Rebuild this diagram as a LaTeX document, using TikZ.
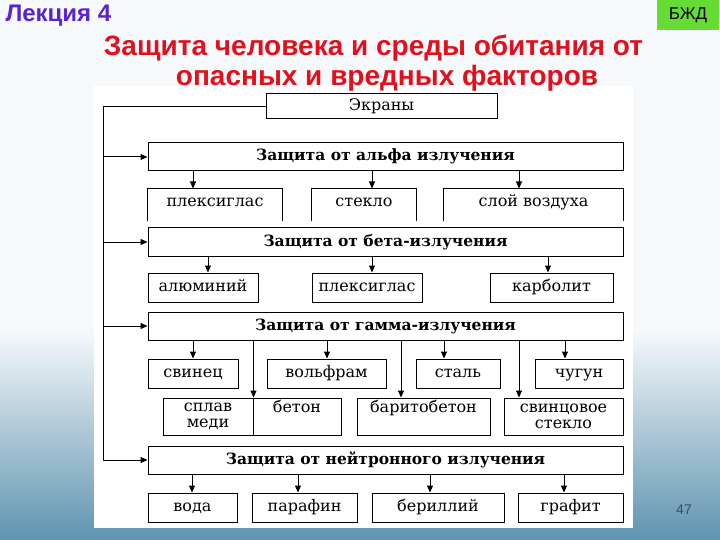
\documentclass[tikz,border=0pt]{standalone}
\usepackage{fontspec}
\setmainfont{Liberation Sans}
\newfontfamily\schemefont{DejaVu Serif}
\usetikzlibrary{arrows.meta}

\definecolor{lecblue}{HTML}{5A22D6}
\definecolor{titlered}{HTML}{E0101C}
\definecolor{tabgreen}{HTML}{66DB33}
\definecolor{bgtop}{HTML}{F6F9FC}
\definecolor{bgbottom}{HTML}{5F94B0}
\definecolor{pagegray}{HTML}{3E4E5E}

\begin{document}
\begin{tikzpicture}[
    x=1pt, y=-1pt,
    line width=1pt,
    item/.style={
        draw,
        inner sep=0pt,
        minimum height=29,
        text height=11pt,
        text depth=3pt,
        align=center,
        font=\schemefont\fontsize{16}{16}\selectfont
    },
    head/.style={item, minimum width=475, minimum height=28,
        font=\schemefont\bfseries\fontsize{15.5}{16}\selectfont},
    openitem/.style={item, draw=none, minimum height=32, text depth=8pt},
    tallitem/.style={item, minimum height=37},
    toptext/.style={text height=14pt, text depth=23pt},
    arrow/.style={-{Triangle[length=7pt, width=6pt]}},
    title/.style={font=\bfseries\fontsize{28}{30}\selectfont, text=titlered, inner sep=0pt}
]
\useasboundingbox (0,0) rectangle (720,540);

% ============================================================
% FON SLAJDA
% ============================================================
\fill[bgtop] (0,0) rectangle (720,330);
\shade[top color=bgtop, bottom color=bgbottom] (0,330) rectangle (720,540);
\fill[white] (94,86) rectangle (633,528);

\node[font=\bfseries\fontsize{24}{26}\selectfont, text=lecblue, anchor=west, inner sep=0pt] (lecture) at (5,16) {Лекция 4};
\node[fill=tabgreen, minimum width=62, minimum height=30, font=\fontsize{17}{19}\selectfont] (tab) at (688,15) {БЖД};
\node[title, anchor=base] (title1) at (373.5,56) {Защита человека и среды обитания от};
\node[title, anchor=base] (title2) at (387,86) {опасных и вредных факторов};
\node[text=pagegray, font=\fontsize{14}{16}\selectfont] (page) at (684,510) {47};

% ============================================================
% EKRANY I GLAVNYE VIDY ZASHCHITY
% ============================================================
\node[item, minimum width=231, minimum height=25] (screens) at (381.5,106.5) {Экраны};
\node[head] (alpha) at (385.5,157) {Защита от альфа излучения};
\node[head] (beta) at (385.5,242) {Защита от бета-излучения};
\node[head] (gamma) at (385.5,326) {Защита от гамма-излучения};
\node[head] (neutron) at (385.5,460) {Защита от нейтронного излучения};

\coordinate (spine) at (103,460);
\draw (screens.west) -| (spine);
\draw[arrow] (spine |- alpha.west) -- (alpha.west);
\draw[arrow] (spine |- beta.west) -- (beta.west);
\draw[arrow] (spine |- gamma.west) -- (gamma.west);
\draw[arrow] (spine) -- (neutron.west);

% ============================================================
% ALFA
% ============================================================
\node[openitem, minimum width=134] (plexA) at (215,205) {плексиглас};
\node[openitem, minimum width=104] (glass) at (364,205) {стекло};
\node[openitem, minimum width=179] (air) at (533.5,205) {слой воздуха};

\draw (plexA.south west) |- (plexA.north east) -- (plexA.south east);
\draw (glass.south west) |- (glass.north east) -- (glass.south east);
\draw (air.south west) |- (air.north east) -- (air.south east);

\draw[arrow] (alpha.south -| 193,0) -- (plexA.north -| 193,0);
\draw[arrow] (alpha.south -| 372,0) -- (glass.north -| 372,0);
\draw[arrow] (alpha.south -| 519,0) -- (air.north -| 519,0);

% ============================================================
% BETA
% ============================================================
\node[item, minimum width=110] (alum) at (203,287.5) {алюминий};
\node[item, minimum width=110] (plexB) at (367,287.5) {плексиглас};
\node[item, minimum width=123] (carbo) at (551.5,287.5) {карболит};

\draw[arrow] (beta.south -| 208,0) -- (alum.north -| 208,0);
\draw[arrow] (beta.south -| 372,0) -- (plexB.north -| 372,0);
\draw[arrow] (beta.south -| 548,0) -- (carbo.north -| 548,0);

% ============================================================
% GAMMA
% ============================================================
\node[item, minimum width=90] (lead) at (193,373.5) {свинец};
\node[item, minimum width=119] (wolfram) at (326.5,373.5) {вольфрам};
\node[item, minimum width=84] (steel) at (458,373.5) {сталь};
\node[item, minimum width=88] (iron) at (579,373.5) {чугун};

\node[tallitem, text height=, text depth=, minimum width=90] (copper) at (208,416.5) {сплав\\меди};
\node[tallitem, toptext, minimum width=88] (concrete) at (297,416.5) {бетон};
\node[tallitem, toptext, minimum width=133] (baryte) at (423.5,416.5) {баритобетон};
\node[tallitem, text height=, text depth=, minimum width=119] (leadglass) at (563.5,416.5) {свинцовое\\стекло};

\draw[arrow] (gamma.south -| 193,0) -- (lead.north -| 193,0);
\draw[arrow] (gamma.south -| 327,0) -- (wolfram.north -| 327,0);
\draw[arrow] (gamma.south -| 444,0) -- (steel.north -| 444,0);
\draw[arrow] (gamma.south -| 565,0) -- (iron.north -| 565,0);
\draw[arrow] (gamma.south -| copper.north east) -- (copper.north east);
\draw[arrow] (gamma.south -| 401,0) -- (baryte.north -| 401,0);
\draw[arrow] (gamma.south -| 519,0) -- (leadglass.north -| 519,0);

% ============================================================
% NEJTRONY
% ============================================================
\node[item, minimum width=89] (water) at (192.5,507.5) {вода};
\node[item, minimum width=105] (paraffin) at (304.5,507.5) {парафин};
\node[item, minimum width=132] (beryl) at (438,507.5) {бериллий};
\node[item, minimum width=105] (graphite) at (570.5,507.5) {графит};

\draw[arrow] (neutron.south -| 192,0) -- (water.north -| 192,0);
\draw[arrow] (neutron.south -| 298,0) -- (paraffin.north -| 298,0);
\draw[arrow] (neutron.south -| 430,0) -- (beryl.north -| 430,0);
\draw[arrow] (neutron.south -| 564,0) -- (graphite.north -| 564,0);

\end{tikzpicture}
\end{document}
